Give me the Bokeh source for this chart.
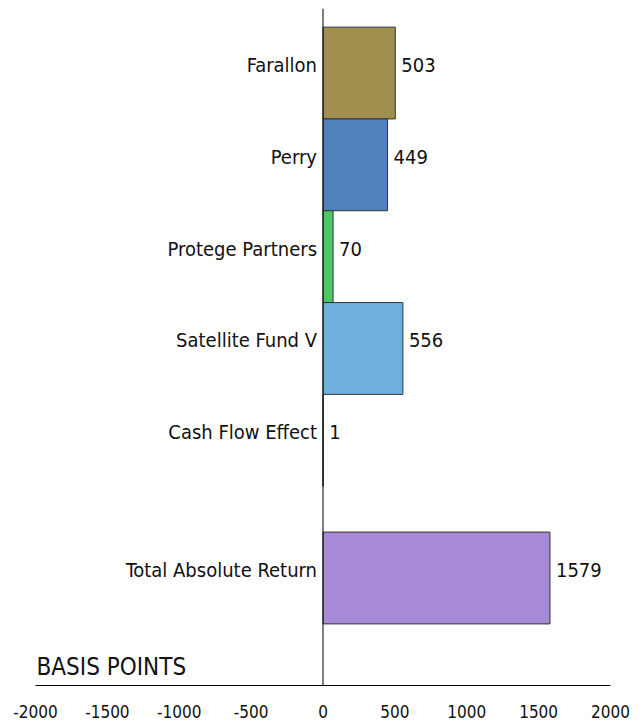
from bokeh.plotting import figure
from bokeh.models import Range1d, Span, FixedTicker, ColumnDataSource, Label
from bokeh.core.properties import value
from bokeh.embed import file_html
from bokeh.resources import INLINE

categories = ["Farallon", "Perry", "Protege Partners", "Satellite Fund V", "Cash Flow Effect", "Total Absolute Return"]
values = [503, 449, 70, 556, 1, 1579]
positions = [0, 1, 2, 3, 4, 5.5]
colors = ["#A08F4F", "#4F81BD", "#4CC761", "#70B0DE", "#FFFFFF", "#A68AD6"]
ticks = [-2000, -1500, -1000, -500, 0, 500, 1000, 1500, 2000]
axis_title = "BASIS POINTS"

FONT = "'Liberation Sans Narrow', 'DejaVu Sans Condensed', Roboto, sans-serif"

src = ColumnDataSource(dict(cat=categories, val=values, y=positions, color=colors,
                            lbl=[str(v) for v in values], zero=[0] * len(values)))

p = figure(width=640, height=720, output_backend="svg", toolbar_location=None,
           x_range=Range1d(-2000, 2000), y_range=Range1d(6.671, -0.703),
           min_border_left=35, min_border_right=30, min_border_top=8, min_border_bottom=35)
p.outline_line_color = None
p.xgrid.visible = False
p.ygrid.visible = False
p.yaxis.visible = False

p.hbar(y="y", left="zero", right="val", height=1.0, fill_color="color",
       line_color="#333333", line_width=1, source=src)

p.add_layout(Span(location=0, dimension="height", line_color="black", line_width=1))

p.text(x="zero", y="y", text="cat", source=src, x_offset=-6, y_offset=-8, text_align="right",
       text_baseline="middle", text_font=value(FONT), text_font_size="20px", text_color="#111111")
p.text(x="val", y="y", text="lbl", source=src, x_offset=6, y_offset=-8, text_align="left",
       text_baseline="middle", text_font=value(FONT), text_font_size="20px", text_color="#111111")

p.add_layout(Label(x=-2000, y=6.671, x_offset=1, y_offset=5, text=axis_title, text_baseline="bottom",
                   text_font=FONT, text_font_size="24px", text_color="#111111"))

ax = p.xaxis[0]
ax.ticker = FixedTicker(ticks=ticks)
ax.major_label_overrides = {t: str(t) for t in ticks}
ax.major_tick_in = 0
ax.major_tick_out = 0
ax.minor_tick_in = 0
ax.minor_tick_out = 0
ax.axis_line_color = "black"
ax.axis_line_width = 1
ax.major_label_text_font = FONT
ax.major_label_text_font_size = "17px"
ax.major_label_text_color = "#111111"
ax.major_label_standoff = 19

open("out.html", "w").write(file_html(p, INLINE))
